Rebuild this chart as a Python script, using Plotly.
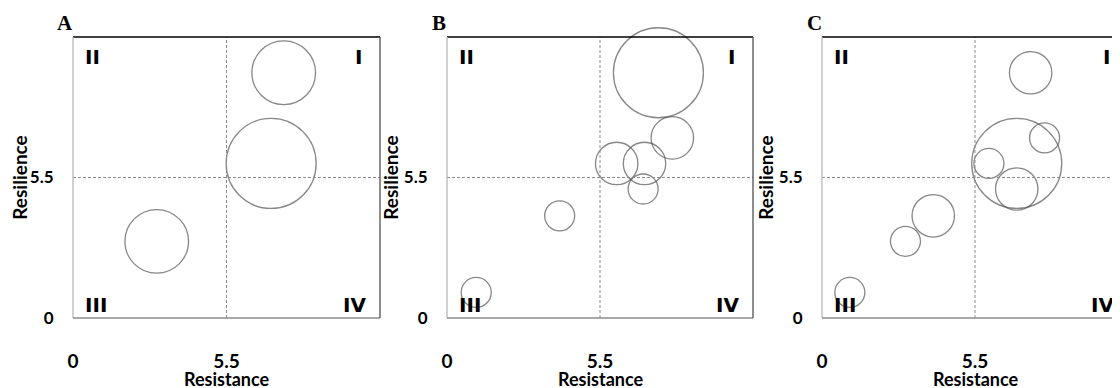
import plotly.graph_objects as go

# ---- data ----
panel_labels = ["A", "B", "C"]
quadrants = ["I", "II", "III", "IV"]
tick_vals = [0, 5.5]
tick_text = ["0", "5.5"]
threshold = 5.5

a_resistance = [7.55, 7.1, 3.0]
a_resilience = [9.6, 6.05, 3.0]
a_size = [4.5, 9, 4.5]

b_resistance = [7.6, 8.1, 6.1, 7.1, 7.05, 4.05, 1.05]
b_resilience = [9.6, 7.05, 6.05, 6.05, 5.05, 4.0, 1.0]
b_size = [9, 2, 2, 2, 1, 1, 1]

c_resistance = [7.5, 7.0, 8.0, 6.0, 7.0, 4.0, 3.0, 1.0]
c_resilience = [9.6, 6.05, 7.05, 6.05, 5.05, 4.0, 3.0, 1.0]
c_size = [2, 9, 1, 1, 2, 2, 1, 1]

W, H = 1120, 388
OFF = 8  # page body margin: screen px = figure px + OFF
max_d = 90
sizeref = 2 * max(a_size + b_size + c_size) / (max_d ** 2)


def px_x(sx):
    return (sx - OFF) / W


def px_y(sy):
    return 1 - (sy - OFF) / H


panels = [
    (a_resistance, a_resilience, a_size, 73, 380),
    (b_resistance, b_resilience, b_size, 447, 753),
    (c_resistance, c_resilience, c_size, 822, 1128),
]
top_px, bot_px = 37, 318
ydom = [px_y(bot_px), px_y(top_px)]

fig = go.Figure()
font_tick = "Lato"
shapes = []
annotations = []
for i, (xs, ys, ss, lpx, rpx) in enumerate(panels):
    n = "" if i == 0 else str(i + 1)
    full_w = rpx - lpx
    fig.add_trace(go.Scatter(
        x=xs, y=ys, mode="markers", xaxis="x" + n, yaxis="y" + n,
        marker=dict(size=ss, sizemode="area", sizeref=sizeref,
                    color="rgba(0,0,0,0)",
                    line=dict(color="#555555", width=1.3)),
        hoverinfo="x+y", showlegend=False, cliponaxis=False))
    fig.layout["xaxis" + n] = dict(
        domain=[px_x(lpx), min(px_x(rpx), 1.0)], range=[0, 11], anchor="y" + n,
        tickvals=tick_vals, ticktext=tick_text, showgrid=False, zeroline=False,
        showline=False, ticks="outside", ticklen=26, tickcolor="rgba(0,0,0,0)",
        automargin=False,
        tickfont=dict(family=font_tick, size=19, color="black", weight="bold"))
    fig.layout["yaxis" + n] = dict(
        domain=ydom, range=[0, 11], anchor="x" + n,
        tickvals=tick_vals, ticktext=tick_text, showgrid=False, zeroline=False,
        showline=False, ticks="outside", ticklen=15, tickcolor="rgba(0,0,0,0)",
        automargin=False,
        tickfont=dict(family=font_tick, size=17, color="black", weight="bold"),
        title=dict(text="<b>Resilience</b>", standoff=0,
                   font=dict(family=font_tick, size=19, color="black")))
    xr, yr = "x" + n, "y" + n
    xd, yd = xr + " domain", yr + " domain"
    # x-axis title
    annotations.append(dict(text="<b>Resistance</b>", xref=xd, yref="paper",
                            x=0.5, y=px_y(379), showarrow=False,
                            xanchor="center", yanchor="middle",
                            font=dict(family=font_tick, size=18, color="black")))
    # dashed quadrant dividers
    shapes.append(dict(type="line", xref=xr, yref=yd, x0=threshold, x1=threshold, y0=0, y1=1,
                       line=dict(color="#8a8a8a", width=1, dash="3px,2px")))
    shapes.append(dict(type="line", xref=xd, yref=yr, x0=0, x1=1, y0=threshold, y1=threshold,
                       line=dict(color="#8a8a8a", width=1, dash="3px,2px")))
    # borders
    shapes.append(dict(type="line", xref=xd, yref=yd, x0=0, x1=1, y0=1, y1=1,
                       line=dict(color="black", width=1.3)))
    shapes.append(dict(type="line", xref=xd, yref=yd, x0=0, x1=0, y0=0, y1=1,
                       line=dict(color="#b8b8b8", width=1.3)))
    shapes.append(dict(type="line", xref=xd, yref=yd, x0=0, x1=1, y0=0, y1=0,
                       line=dict(color="#8c8c8c", width=1.3)))
    shapes.append(dict(type="line", xref=xd, yref=yd, x0=1, x1=1, y0=0, y1=1,
                       line=dict(color="#505050", width=1.3)))
    # panel letter
    annotations.append(dict(text="<b>%s</b>" % panel_labels[i], xref="paper", yref="paper",
                            x=px_x(lpx - 8), y=px_y(23), showarrow=False,
                            xanchor="center", yanchor="middle",
                            font=dict(family="Liberation Serif", size=21, color="black")))
    # quadrant labels
    qf = dict(family="DejaVu Sans", size=20, color="black", weight="bold")
    to_x = lambda px: 11 * px / full_w
    to_y = lambda px: 11 * px / (bot_px - top_px)
    quad_pos = {
        "I": (11 - to_x(16), 11 - to_y(20), "right"),
        "II": (to_x(10), 11 - to_y(20), "left"),
        "III": (to_x(10), to_y(13), "left"),
        "IV": (11 - to_x(12), to_y(13), "right"),
    }
    for q in quadrants:
        qx, qy, anc = quad_pos[q]
        annotations.append(dict(text=q, xref=xr, yref=yr, x=qx, y=qy, showarrow=False,
                                xanchor=anc, yanchor="middle", font=qf))

fig.update_layout(width=W, height=H, margin=dict(l=0, r=0, t=0, b=0),
                  paper_bgcolor="white", plot_bgcolor="white",
                  shapes=shapes, annotations=annotations)
fig.write_html("out.html")
